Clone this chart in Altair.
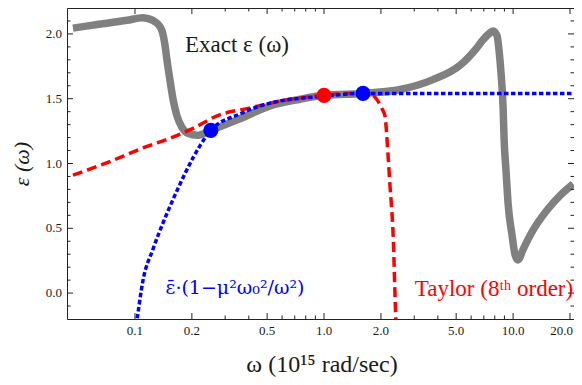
import altair as alt
import pandas as pd

# ---- data ----
gray_w = [0.047, 0.060, 0.0907, 0.110, 0.1157, 0.1306, 0.139, 0.144, 0.1477, 0.153, 0.159, 0.1667,
          0.1774, 0.1907, 0.213, 0.252, 0.360, 0.518, 0.747, 1.0, 1.608, 2.53, 3.77, 5.25, 6.45, 6.94,
          7.55, 7.84, 8.23, 8.43, 8.64, 8.85, 8.96, 9.18, 9.41, 9.88, 10.25, 10.62, 11.3, 12.8, 15.1,
          17.7, 20.8]
gray_eps = [2.045, 2.068, 2.105, 2.125, 2.120, 2.083, 2.023, 1.917, 1.797, 1.647, 1.496, 1.368,
            1.278, 1.233, 1.218, 1.256, 1.346, 1.444, 1.496, 1.526, 1.541, 1.571, 1.647, 1.759, 1.895,
            1.955, 2.008, 2.023, 1.985, 1.872, 1.692, 1.444, 1.195, 0.940, 0.692, 0.444, 0.293, 0.256,
            0.338, 0.489, 0.639, 0.752, 0.842]

red_w = [0.047, 0.0738, 0.110, 0.153, 0.203, 0.272, 0.406, 0.585, 1.0, 1.373, 1.751, 1.93, 2.03,
         2.10, 2.18, 2.23, 2.32, 2.40, 2.43]
red_eps = [0.910, 1.015, 1.120, 1.195, 1.271, 1.368, 1.429, 1.481, 1.526, 1.541, 1.536, 1.481, 1.421,
           1.368, 1.068, 0.842, 0.451, -0.203, -0.32]

blue_w = [0.100, 0.1025, 0.110, 0.1245, 0.1407, 0.1667, 0.203, 0.2404, 0.252, 0.360, 0.518, 1.0,
          1.608, 3.22, 6.69, 20.5]
blue_eps = [-0.30, -0.203, 0.090, 0.338, 0.541, 0.789, 1.045, 1.218, 1.256, 1.383, 1.466, 1.519,
            1.541, 1.541, 1.541, 1.541]

red_pt_w = [1.0]
red_pt_eps = [1.526]
blue_pt_w = [0.252, 1.608]
blue_pt_eps = [1.256, 1.541]

x_major = [0.1, 0.2, 0.5, 1, 2, 5, 10, 20]
x_minor = [0.3, 0.4, 0.6, 0.7, 0.8, 0.9, 3, 4, 6, 7, 8, 9]
y_major = [0.0, 0.5, 1.0, 1.5, 2.0]
y_minor = [-0.1, 0.1, 0.2, 0.3, 0.4, 0.6, 0.7, 0.8, 0.9, 1.1, 1.2, 1.3, 1.4, 1.6, 1.7, 1.8, 1.9, 2.1]

label_exact = "Exact ε (ω)"
label_blue = "ε̄·(1−μ²ω₀²/ω²)"
label_red = "Taylor (8ᵗʰ order)"
x_title = "ω (10¹⁵ rad/sec)"
y_title = "ε (ω)"

# ---- layout ----
W, H = 507, 311
FONT = "Liberation Serif, Times New Roman, serif"
TXT = "#1a1a1a"

xs = alt.Scale(type="log", domain=[0.0437, 21.0], nice=False)
ys = alt.Scale(domain=[-0.2, 2.2], nice=False, zero=False)


def line_layer(ws, es, **mark):
    df = pd.DataFrame({"w": ws, "eps": es})
    return alt.Chart(df).mark_line(clip=True, interpolate="monotone", **mark).encode(
        x=alt.X("w:Q", scale=xs, axis=None),
        y=alt.Y("eps:Q", scale=ys, axis=None),
    )


def point_layer(ws, es, color):
    df = pd.DataFrame({"w": ws, "eps": es})
    return alt.Chart(df).mark_circle(size=230, opacity=1, color=color).encode(
        x=alt.X("w:Q", scale=xs, axis=None),
        y=alt.Y("eps:Q", scale=ys, axis=None),
    )


def xtick_layer(vals, length, top):
    df = pd.DataFrame({"w": vals})
    y0 = 0 if top else H
    y1 = length if top else H - length
    return alt.Chart(df).mark_rule(color="#222", strokeWidth=1).encode(
        x=alt.X("w:Q", scale=xs, axis=None), y=alt.value(y0), y2=alt.value(y1))


def ytick_layer(vals, length, right):
    df = pd.DataFrame({"eps": vals})
    x0 = W if right else 0
    x1 = W - length if right else length
    return alt.Chart(df).mark_rule(color="#222", strokeWidth=1).encode(
        y=alt.Y("eps:Q", scale=ys, axis=None), x=alt.value(x0), x2=alt.value(x1))


def text_layer(txt, x, y, color, size=22, style="normal", angle=0, font=FONT):
    return alt.Chart(pd.DataFrame({"t": [txt]})).mark_text(
        font=font, fontSize=size, color=color, align="center", baseline="middle",
        fontStyle=style, angle=angle
    ).encode(text="t:N", x=alt.value(x), y=alt.value(y))


x_labels = alt.Chart(pd.DataFrame({"w": x_major[:-1]})).mark_text(
    font=FONT, fontSize=13, color=TXT, baseline="top", align="center"
).encode(x=alt.X("w:Q", scale=xs, axis=None), y=alt.value(H + 6),
         text=alt.Text("w:Q", format=".1f"))

# last label kept whole at the right edge
x_label_last = alt.Chart(pd.DataFrame({"w": x_major[-1:]})).mark_text(
    font=FONT, fontSize=13, color=TXT, baseline="top", align="right"
).encode(x=alt.value(W - 1), y=alt.value(H + 6),
         text=alt.Text("w:Q", format=".1f"))

y_labels = alt.Chart(pd.DataFrame({"eps": y_major})).mark_text(
    font=FONT, fontSize=13, color=TXT, baseline="middle", align="right"
).encode(y=alt.Y("eps:Q", scale=ys, axis=None), x=alt.value(-5),
         text=alt.Text("eps:Q", format=".1f"))

gray = line_layer(gray_w, gray_eps, color="#808080", strokeWidth=7.5, strokeCap="butt")
red = line_layer(red_w, red_eps, color="#ff0000", strokeWidth=3.5, strokeDash=[10, 5])
blue = line_layer(blue_w, blue_eps, color="#0000ff", strokeWidth=3.5, strokeDash=[4.5, 2.5])

layers = [
    gray, red, blue,
    point_layer(red_pt_w, red_pt_eps, "#ff0000"),
    point_layer(blue_pt_w, blue_pt_eps, "#0000ff"),
    xtick_layer(x_major, 6, False), xtick_layer(x_minor, 3.5, False),
    xtick_layer(x_major, 6, True), xtick_layer(x_minor, 3.5, True),
    ytick_layer(y_major, 6, False), ytick_layer(y_minor, 3.5, False),
    ytick_layer(y_major, 6, True), ytick_layer(y_minor, 3.5, True),
    x_labels, x_label_last, y_labels,
    text_layer(x_title, 255, 357, TXT, size=24),
    text_layer(y_title, -45, 156, TXT, style="italic", angle=270),
    text_layer(label_exact, 170, 37, TXT, size=23),
    text_layer(label_blue, 168, 280, "#0000ff", size=19, font="DejaVu Serif"),
    text_layer(label_red, 427, 281, "#ff0000", size=23),
]

chart = alt.layer(*layers).properties(
    width=W, height=H,
    autosize=alt.AutoSizeParams(type="none"),
    padding={"left": 59, "top": 0, "right": 0, "bottom": 58},
    background="white",
).configure_view(stroke="#222", strokeWidth=1)

chart.save("out.html", embed_options={"renderer": "svg", "actions": False})
